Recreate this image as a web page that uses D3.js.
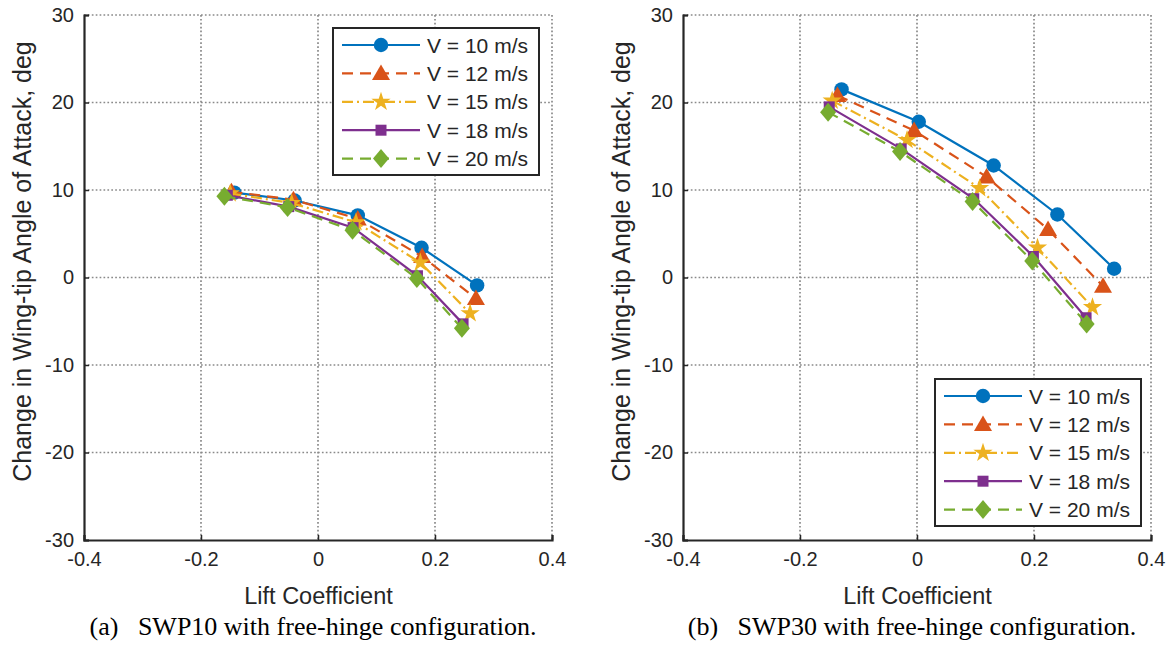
<!DOCTYPE html>
<html>
<head>
<meta charset="utf-8">
<script src="https://cdn.jsdelivr.net/npm/d3@7"></script>
<style>
  html, body { margin: 0; padding: 0; background: #fff; }
  svg { display: block; }
</style>
</head>
<body>
<svg id="chart" width="1175" height="646"></svg>
<script>
// Wind speeds (m/s) for each measured series
const speeds = [10, 12, 15, 18, 20];
const seriesColors = ["#0072BD", "#D95319", "#EDB120", "#7E2F8E", "#77AC30"];
const seriesDash = ["none", "11,7", "11,4,2,4", "none", "11,7"];
const seriesMarker = ["circle", "triangle", "star", "square", "diamond"];

const xTicks = [-0.4, -0.2, 0, 0.2, 0.4];
const yTicks = [-30, -20, -10, 0, 10, 20, 30];
const xTickLabels = ["-0.4", "-0.2", "0", "0.2", "0.4"];
const yTickLabels = ["-30", "-20", "-10", "0", "10", "20", "30"];

// SWP10, free hinge: lift coefficient / wing-tip AoA change per speed
const swp10Lift = [
  [-0.143, -0.040, 0.068, 0.177, 0.272],
  [-0.148, -0.042, 0.068, 0.178, 0.270],
  [-0.150, -0.045, 0.065, 0.175, 0.260],
  [-0.155, -0.050, 0.060, 0.170, 0.248],
  [-0.160, -0.052, 0.059, 0.169, 0.246]
];
const swp10Angle = [
  [9.7, 8.8, 7.1, 3.4, -0.9],
  [9.8, 8.9, 6.7, 2.4, -2.4],
  [9.6, 8.5, 6.3, 1.7, -4.1],
  [9.4, 8.1, 5.7, 0.2, -5.3],
  [9.3, 8.0, 5.4, -0.1, -5.8]
];

// SWP30, free hinge
const swp30Lift = [
  [-0.129, 0.003, 0.131, 0.240, 0.337],
  [-0.136, -0.005, 0.119, 0.224, 0.318],
  [-0.145, -0.017, 0.107, 0.206, 0.300],
  [-0.150, -0.027, 0.097, 0.199, 0.289],
  [-0.152, -0.029, 0.095, 0.197, 0.290]
];
const swp30Angle = [
  [21.5, 17.8, 12.8, 7.2, 1.0],
  [20.8, 16.8, 11.5, 5.5, -1.0],
  [20.2, 15.7, 10.2, 3.4, -3.4],
  [19.5, 14.7, 9.0, 2.4, -4.6],
  [18.9, 14.4, 8.7, 1.9, -5.3]
];

const panels = [
  { lift: swp10Lift, angle: swp10Angle, left: 84, caption: "(a)\u2002 SWP10 with free-hinge configuration.", legend: { x: 333, y: 28 } },
  { lift: swp30Lift, angle: swp30Angle, left: 683, caption: "(b)\u2002 SWP30 with free-hinge configuration.", legend: { x: 935, y: 379 } }
];

const plotW = 468, plotTop = 15, plotBottom = 540;
const axisColor = "#262626";
const sans = "'Liberation Sans', Arial, Helvetica, sans-serif";
const svg = d3.select("#chart");

function markerPath(type) {
  switch (type) {
    case "circle": return d3.symbol(d3.symbolCircle, 165)();
    case "triangle": return "M0,-9L9,6.5L-9,6.5Z";
    case "star": return d3.symbol(d3.symbolStar, 115)();
    case "square": return "M-5.5,-5.5H5.5V5.5H-5.5Z";
    case "diamond": return "M0,-9.5L8,0L0,9.5L-8,0Z";
  }
}

panels.forEach(p => {
  const x = d3.scaleLinear().domain([-0.4, 0.4]).range([p.left, p.left + plotW]);
  const y = d3.scaleLinear().domain([-30, 30]).range([plotBottom, plotTop]);
  const g = svg.append("g");

  // dotted grid
  g.append("g").selectAll("line").data(xTicks.slice(1)).join("line")
    .attr("x1", d => x(d)).attr("x2", d => x(d)).attr("y1", plotTop).attr("y2", plotBottom)
    .attr("stroke", "#8a8a8a").attr("stroke-width", 1.7).attr("stroke-dasharray", "1.7,2.2");
  g.append("g").selectAll("line").data(yTicks.slice(1)).join("line")
    .attr("y1", d => y(d)).attr("y2", d => y(d)).attr("x1", p.left).attr("x2", p.left + plotW)
    .attr("stroke", "#8a8a8a").attr("stroke-width", 1.7).attr("stroke-dasharray", "1.7,2.2");

  // axes with inward ticks
  const xAxis = d3.axisBottom(x).tickValues(xTicks).tickSize(-5).tickPadding(12)
    .tickFormat((d, i) => xTickLabels[i]);
  const yAxis = d3.axisLeft(y).tickValues(yTicks).tickSize(-5).tickPadding(10)
    .tickFormat((d, i) => yTickLabels[i]);
  const gx = g.append("g").attr("transform", `translate(0,${plotBottom})`).call(xAxis);
  const gy = g.append("g").attr("transform", `translate(${p.left},0)`).call(yAxis);
  [gx, gy].forEach(a => {
    a.attr("font-family", sans).attr("font-size", 20);
    a.select(".domain").attr("stroke", axisColor).attr("stroke-width", 2.2);
    a.selectAll(".tick line").attr("stroke", axisColor).attr("stroke-width", 1.5);
    a.selectAll(".tick text").attr("fill", "#262626")
      .style("font-size", "20px").style("font-family", sans);
  });

  // axis titles
  g.append("text").attr("x", x(0) + 0.5).attr("y", 604).attr("text-anchor", "middle")
    .attr("font-family", sans).attr("font-size", 23.5).attr("fill", "#262626").text("Lift Coefficient");
  g.append("text").attr("transform", `translate(${p.left - 62},${y(0) - 16}) rotate(-90)`)
    .attr("text-anchor", "middle").attr("dy", "0.35em")
    .attr("font-family", sans).attr("font-size", 25).attr("fill", "#262626")
    .text("Change in Wing-tip Angle of Attack, deg");

  // caption
  g.append("text").attr("x", x(0) - 5).attr("y", 635).attr("text-anchor", "middle")
    .attr("font-family", "'Liberation Serif', 'Times New Roman', serif").attr("font-size", 26)
    .attr("fill", "#000").text(p.caption);

  // series
  const line = d3.line().x(d => x(d[0])).y(d => y(d[1]));
  speeds.forEach((v, i) => {
    const pts = p.lift[i].map((c, j) => [c, p.angle[i][j]]);
    const s = g.append("g");
    s.append("path").datum(pts).attr("d", line).attr("fill", "none")
      .attr("stroke", seriesColors[i]).attr("stroke-width", 2.2)
      .attr("stroke-dasharray", seriesDash[i] === "none" ? null : seriesDash[i]);
    s.selectAll("path.mk").data(pts).join("path").attr("class", "mk")
      .attr("transform", d => `translate(${x(d[0])},${y(d[1])})`)
      .attr("d", markerPath(seriesMarker[i])).attr("fill", seriesColors[i]);
  });

  // legend
  const L = p.legend, rowH = 28.4;
  const lg = g.append("g").attr("transform", `translate(${L.x},${L.y})`);
  lg.append("rect").attr("width", 206).attr("height", 147).attr("fill", "#fff")
    .attr("stroke", axisColor).attr("stroke-width", 2);
  speeds.forEach((v, i) => {
    const ry = 17 + i * rowH;
    lg.append("line").attr("x1", 9).attr("x2", 87).attr("y1", ry).attr("y2", ry)
      .attr("stroke", seriesColors[i]).attr("stroke-width", 2.2)
      .attr("stroke-dasharray", seriesDash[i] === "none" ? null : seriesDash[i]);
    lg.append("path").attr("transform", `translate(48,${ry})`)
      .attr("d", markerPath(seriesMarker[i])).attr("fill", seriesColors[i]);
    lg.append("text").attr("x", 94).attr("y", ry).attr("dy", "0.36em")
      .attr("font-family", sans).attr("font-size", 21).attr("fill", "#262626")
      .text(`V = ${v} m/s`);
  });
});
</script>
</body>
</html>
